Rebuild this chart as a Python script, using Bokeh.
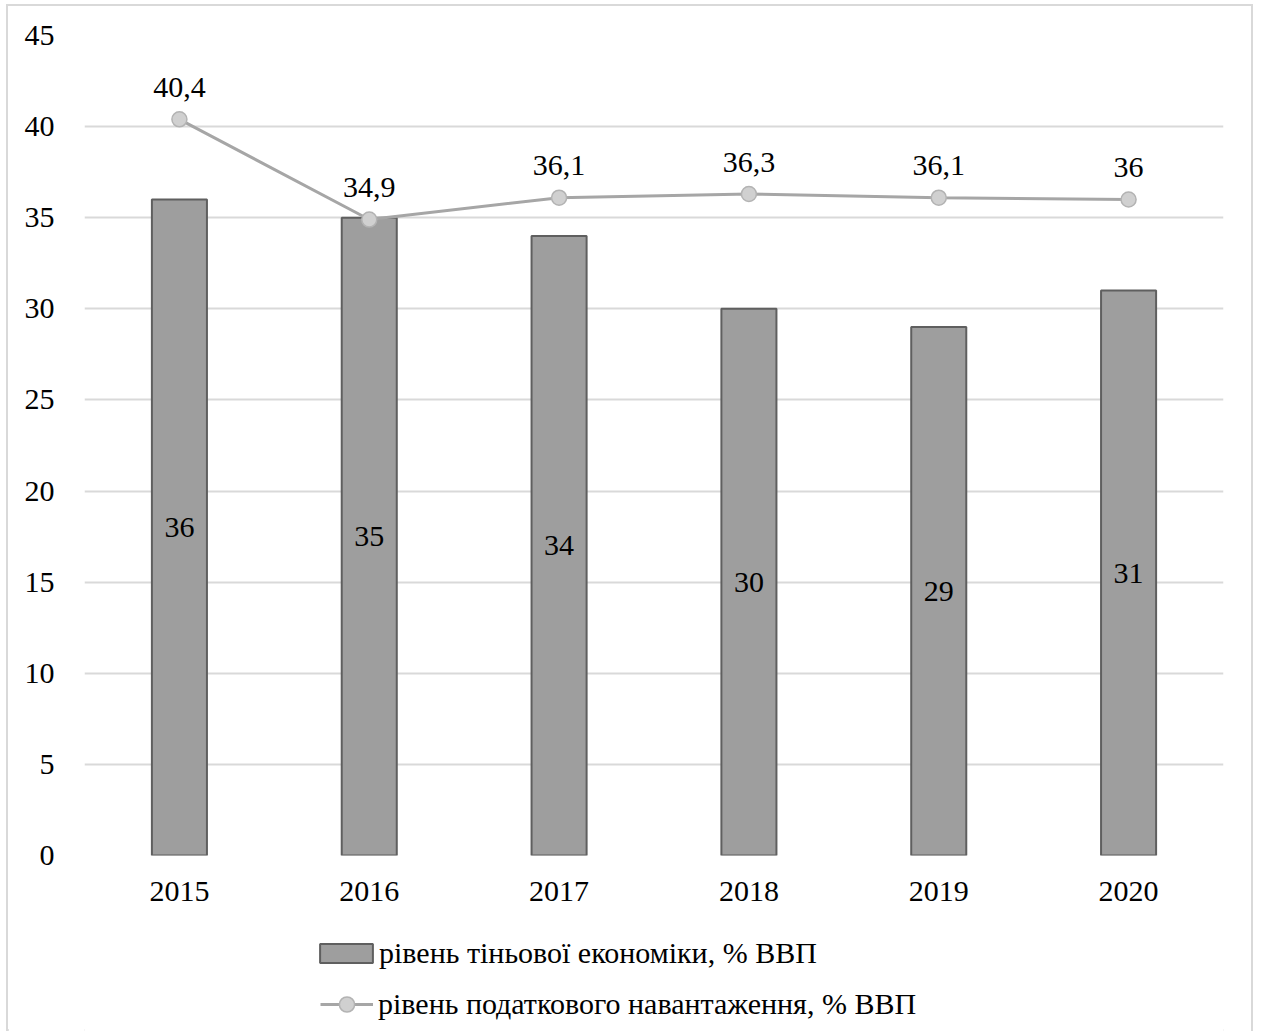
import numpy as np
from bokeh.plotting import figure
from bokeh.layouts import column
from bokeh.models import (ColumnDataSource, Range1d, FactorRange, Legend, LegendItem,
                          LabelSet, SingleIntervalTicker)
from bokeh.embed import file_html
from bokeh.resources import INLINE

# Shadow economy vs. tax burden, % of GDP
years = ["2015", "2016", "2017", "2018", "2019", "2020"]
shadow_economy = [36, 35, 34, 30, 29, 31]
tax_burden = [40.4, 34.9, 36.1, 36.3, 36.1, 36.0]
tax_labels = ["40,4", "34,9", "36,1", "36,3", "36,1", "36"]
series_names = ["рівень тіньової економіки, % ВВП",
                "рівень податкового навантаження, % ВВП"]

FONT = "Liberation Serif"
FS = "30px"

BAR_STYLE = dict(fill_color="#9e9e9e", line_color="#5f5f5f", line_width=2)
LINE_STYLE = dict(line_color="#a6a6a6", line_width=3)
MARK_STYLE = dict(size=15, fill_color="#d0d0d0", line_color="#b3b3b3", line_width=1.5)

src = ColumnDataSource(dict(
    year=years,
    shadow=shadow_economy,
    shadow_mid=[v / 2 for v in shadow_economy],
    shadow_txt=[str(v) for v in shadow_economy],
    tax=tax_burden,
    tax_txt=tax_labels,
))

p = figure(
    x_range=FactorRange(*years, range_padding=0),
    y_range=Range1d(0, 45),
    width=1247, height=909,
    output_backend="svg", toolbar_location=None,
    min_border_left=76, min_border_right=28, min_border_top=29, min_border_bottom=60,
)
p.outline_line_color = None
p.background_fill_color = "white"
p.border_fill_color = "white"

# grid and axes
p.xgrid.grid_line_color = None
p.ygrid.grid_line_color = "#d9d9d9"
p.ygrid.grid_line_width = 2
p.yaxis.ticker = SingleIntervalTicker(interval=5)
for ax in (p.xaxis, p.yaxis):
    ax.axis_line_color = None
    ax.major_tick_line_color = None
    ax.minor_tick_line_color = None
    ax.major_label_text_font = FONT
    ax.major_label_text_font_size = FS
    ax.major_label_text_color = "#000000"
p.yaxis.major_label_standoff = 24
p.xaxis.major_label_standoff = 20

# bars and line series
p.vbar(x="year", top="shadow", width=0.29, source=src, **BAR_STYLE)
p.line(x="year", y="tax", source=src, **LINE_STYLE)
p.scatter(x="year", y="tax", source=src, **MARK_STYLE)

# data labels
p.add_layout(LabelSet(x="year", y="shadow_mid", text="shadow_txt", source=src,
                      text_font=FONT, text_font_size=FS, text_color="#000000",
                      text_align="center", text_baseline="middle"))
p.add_layout(LabelSet(x="year", y="tax", text="tax_txt", source=src, y_offset=32,
                      text_font=FONT, text_font_size=FS, text_color="#000000",
                      text_align="center", text_baseline="middle"))

# legend strip underneath the chart; the key renderers hold a single
# undefined value, so only their legend swatches are drawn
lg = figure(width=1247, height=118, output_backend="svg", toolbar_location=None,
            x_range=FactorRange(*years, range_padding=0), y_range=Range1d(0, 45),
            x_axis_location=None, y_axis_location=None,
            min_border=0, min_border_left=0, min_border_right=0,
            min_border_top=0, min_border_bottom=0)
lg.outline_line_color = None
lg.grid.visible = False
lg.border_fill_color = "white"
key_src = ColumnDataSource(dict(year=years[:1], undefined=np.array([np.nan])))
key_bar = lg.vbar(x="year", top="undefined", width=0.29, source=key_src, **BAR_STYLE)
key_line = lg.line(x="year", y="undefined", source=key_src, **LINE_STYLE)
key_mark = lg.scatter(x="year", y="undefined", source=key_src, **MARK_STYLE)

LEGEND_TEXT = dict(label_text_font=FONT, label_text_font_size=FS,
                   label_text_color="#000000", label_height=30, padding=0, margin=0,
                   border_line_color=None, background_fill_alpha=0)

legend_bar = Legend(
    items=[LegendItem(label=series_names[0], renderers=[key_bar], index=0)],
    location=(229, 63), glyph_width=66, glyph_height=24, label_standoff=0,
    **LEGEND_TEXT,
)
legend_line = Legend(
    items=[LegendItem(label=series_names[1], renderers=[key_line, key_mark], index=0)],
    location=(236, 10), glyph_width=53, glyph_height=38, label_standoff=5,
    **LEGEND_TEXT,
)
lg.add_layout(legend_bar, "center")
lg.add_layout(legend_line, "center")

layout = column(p, lg, spacing=0, width=1247, height=1027)
layout.styles = {"border": "2px solid #d9d9d9", "margin-left": "6px", "margin-top": "4px",
                 "background-color": "white"}

html = file_html(layout, INLINE)
open("out.html", "w").write(html)
